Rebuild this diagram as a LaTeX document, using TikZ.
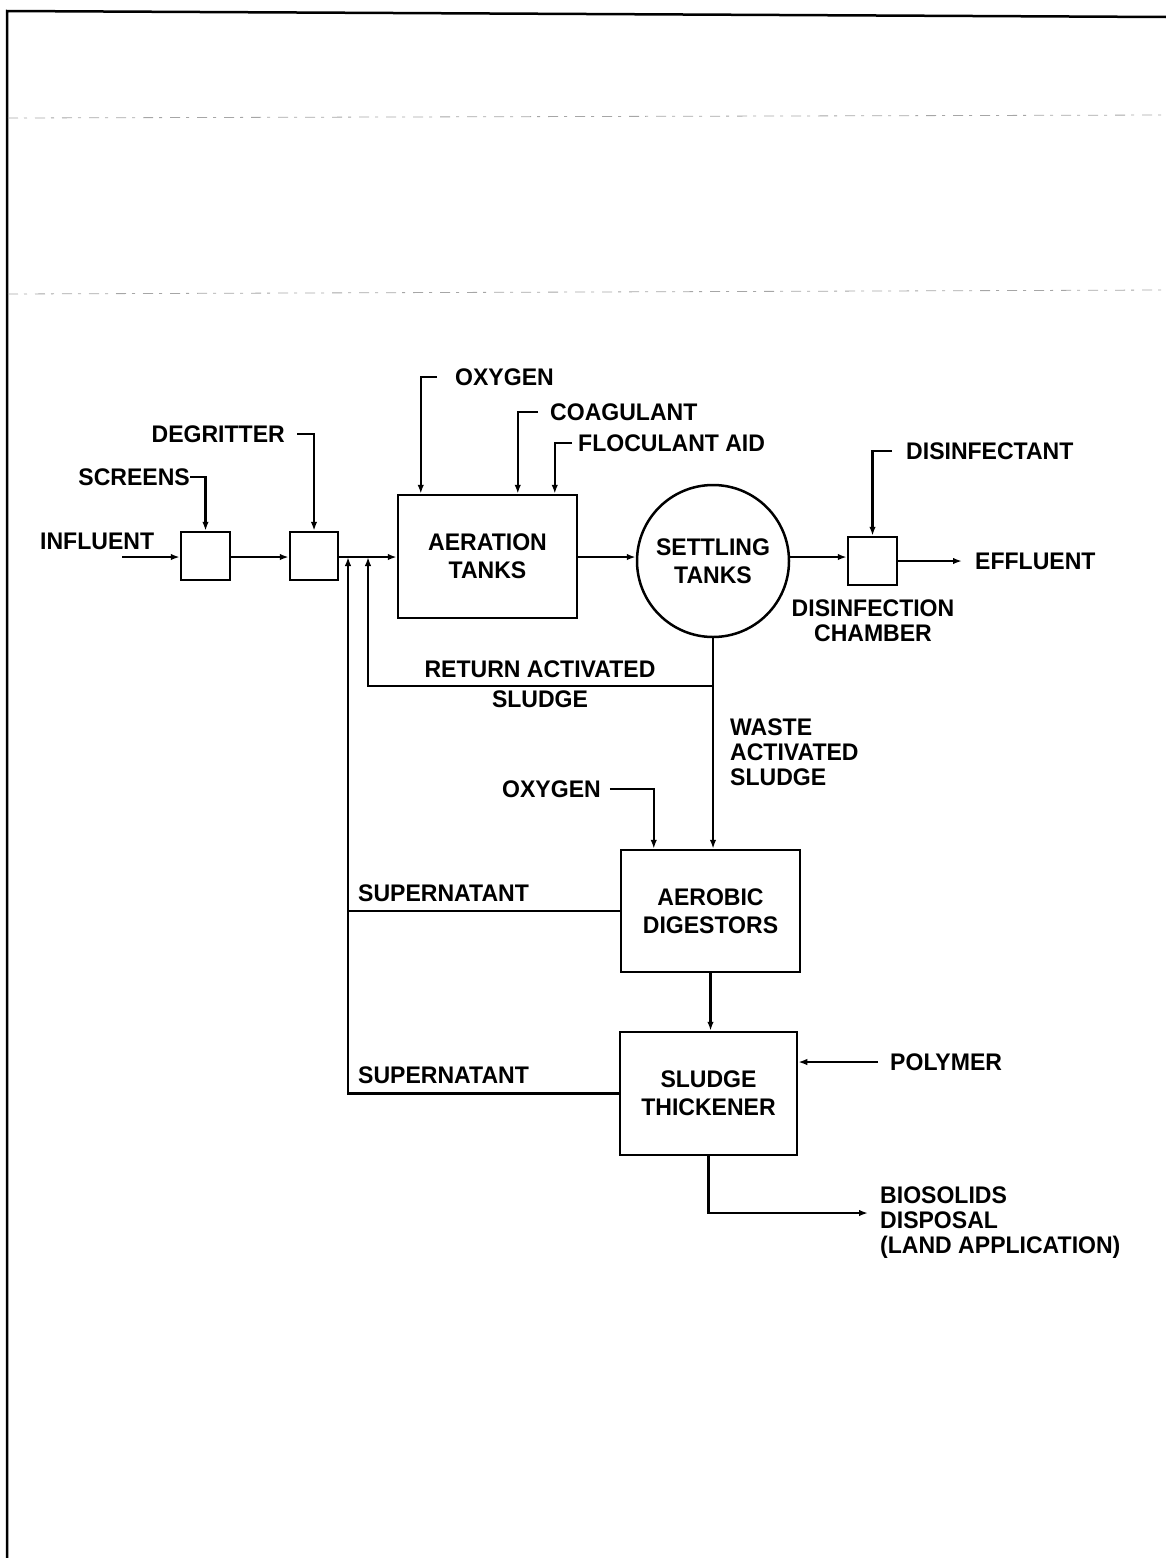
\documentclass[tikz,border=0pt]{standalone}
\usepackage{fontspec}
\setmainfont[FakeStretch=0.96]{Liberation Sans}
\usetikzlibrary{arrows.meta}
\begin{document}
\begin{tikzpicture}[x=1pt,y=-1pt,
  lbl/.style={font=\fontsize{24}{25}\selectfont\bfseries, inner sep=0pt},
  box/.style={draw, line width=2.5pt, inner sep=0pt, font=\fontsize{24}{28}\selectfont\bfseries, align=center},
  flow/.style={line width=2.4pt},
  arr/.style={line width=2.4pt, -{Latex[length=9pt,width=6.5pt]}},
  scan/.style={line width=0.8pt, gray!70, dash pattern=on 10pt off 6pt on 3pt off 8pt}
]
\useasboundingbox (0,0) rectangle (1166,1558);
% scanned page frame and artefacts
\draw[line width=2.5pt] (7,1558) -- (7,11) -- (1166,17);
\draw[scan] (8,118) -- (1166,115);
\draw[scan] (8,294) -- (1166,290);

% process units
\node[box, minimum width=49, minimum height=48] (scr) at (205.5,556) {};
\node[box, minimum width=48, minimum height=48] (deg) at (314,556) {};
\node[box, minimum width=179, minimum height=123] (aer) at (487.5,556.5) {AERATION\\TANKS};
\node[box, circle, minimum size=152] (set) at (713,561) {SETTLING\\TANKS};
\node[box, minimum width=49, minimum height=48] (dis) at (872.5,561) {};
\node[box, minimum width=179, minimum height=122] (dig) at (710.5,911) {AEROBIC\\DIGESTORS};
\node[box, minimum width=177, minimum height=123] (thk) at (708.5,1093.5) {SLUDGE\\THICKENER};

% labels
\node[lbl, anchor=west] (inf) at (40,541) {INFLUENT};
\node[lbl, anchor=east] (scrl) at (190,477) {SCREENS};
\node[lbl, anchor=east] (degl) at (285,434) {DEGRITTER};
\node[lbl, anchor=west] (oxa) at (455,377) {OXYGEN};
\node[lbl, anchor=west] (coa) at (550,412) {COAGULANT};
\node[lbl, anchor=west] (flo) at (578,443) {FLOCULANT AID};
\node[lbl, anchor=west] (dsf) at (906,451) {DISINFECTANT};
\node[lbl, anchor=west] (eff) at (975,561) {EFFLUENT};
\node[lbl, align=center] (dch) at (873,621) {DISINFECTION\\CHAMBER};
\node[lbl] (ras1) at (540,669) {RETURN ACTIVATED};
\node[lbl] (ras2) at (540,699) {SLUDGE};
\node[lbl, anchor=west, align=left] (was) at (730,752) {WASTE\\ACTIVATED\\SLUDGE};
\node[lbl, anchor=west] (oxb) at (502,789) {OXYGEN};
\node[lbl, anchor=west] (sup1) at (358,893) {SUPERNATANT};
\node[lbl, anchor=west] (sup2) at (358,1075) {SUPERNATANT};
\node[lbl, anchor=west] (pol) at (890,1062) {POLYMER};
\node[lbl, anchor=west, align=left] (bio) at (880,1223) {BIOSOLIDS\\DISPOSAL\\(LAND APPLICATION)};

% coordinates
\coordinate (infs) at (122,557);
\coordinate (m1) at (348,557);
\coordinate (m2) at (368,557);
\coordinate (j) at (713,686);
\coordinate (effe) at (962,561);
\coordinate (bioe) at (868,1213);

% main flow
\draw[arr] (infs) -- (infs -| scr.west);
\draw[arr] (scr.east |- infs) -- (deg.west |- infs);
\draw[flow] (deg.east |- infs) -- (m1);
\draw[arr] (m1) -- (aer.west |- infs);
\draw[arr] (aer.east |- infs) -- (set.west |- infs);
\draw[arr] (set.east |- infs) -- (dis.west |- infs);
\draw[arr] (dis.east) -- (effe);

% additions
\draw[arr] (scrl.east) -| (scr.north);
\draw[arr] ([xshift=12pt]degl.east) -| (deg.north);
\draw[arr] ([xshift=-18pt]oxa.west) -| ([xshift=24pt]aer.north west);
\draw[arr] ([xshift=-12pt]coa.west) -| ([xshift=121pt]aer.north west);
\draw[arr] ([xshift=-6pt]flo.west) -| ([xshift=158pt]aer.north west);
\draw[arr] ([xshift=-14pt]dsf.west) -| (dis.north);
\draw[arr] ([xshift=9pt]oxb.east) -| ([xshift=34pt]dig.north west);
\draw[arr] ([xshift=-12pt]pol.west) -- (thk.east |- pol.west);

% sludge lines
\draw[flow] (set.south) -- (j);
\draw[arr] (j) -| (m2);
\draw[arr] (j) -- (j |- dig.north);
\draw[arr] (dig.south) -- (dig.south |- thk.north);
\draw[flow] (dig.west) -- (dig.west -| m1);
\draw[arr] (thk.west) -| (m1);
\draw[arr] (thk.south) |- (bioe);
\end{tikzpicture}
\end{document}
